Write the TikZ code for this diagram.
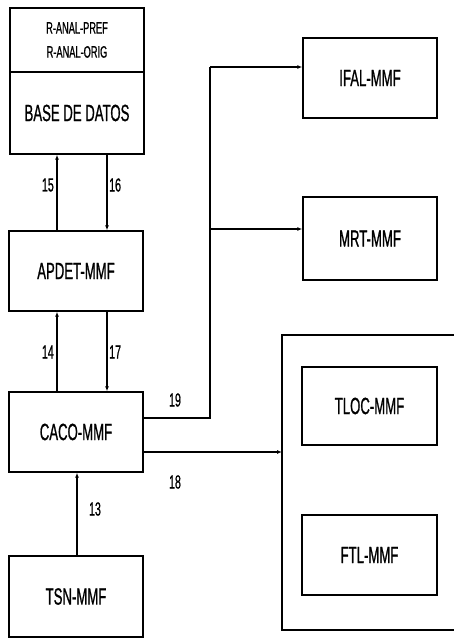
\documentclass[tikz,border=0pt]{standalone}
\usepackage{fontspec}
\setmainfont{Liberation Sans}[FakeStretch=0.56, FakeBold=0.8]
\usepackage{tikz}
\usetikzlibrary{arrows.meta}
\tikzset{
  modbox/.style={draw, line width=1.4pt, minimum width=134pt, minimum height=80pt, inner sep=0pt, align=center, font=\fontsize{23.5}{24}\selectfont},
  conn/.style={line width=1.1pt},
  arrow/.style={conn, -{Latex[length=5pt,width=4pt]}},
  num/.style={font=\fontsize{19}{20}\selectfont, inner sep=1pt}
}

\begin{document}
\begin{tikzpicture}[x=1pt, y=-1pt]
  \useasboundingbox (0,0) rectangle (454,638);

  \node[modbox, minimum height=64pt, font=\fontsize{16.5}{24}\selectfont] (pref) at (77,40) {R-ANAL-PREF\\R-ANAL-ORIG};
  \node[modbox, minimum height=82pt] (base) at (77,113) {BASE DE DATOS};
  \node[modbox] (apdet) at (76,271) {APDET-MMF};
  \node[modbox] (caco) at (76,432) {CACO-MMF};
  \node[modbox, minimum height=81pt] (tsn) at (76,596.5) {TSN-MMF};

  \node[modbox] (ifal) at (370,78) {IFAL-MMF};
  \node[modbox, minimum height=83pt] (mrt) at (370,238.5) {MRT-MMF};
  \node[modbox, minimum height=78pt, minimum width=135pt] (tloc) at (369.5,406) {TLOC-MMF};
  \node[modbox, minimum width=135pt] (ftl) at (369.5,555) {FTL-MMF};
  \draw[line width=1.4pt] (456,335) -- (282,335) -- (282,630) -- (456,630);
  \coordinate (grpin) at (282,452);

  \draw[arrow] ([xshift=-19pt]apdet.north) -- ([xshift=-20pt]base.south);
  \draw[arrow] ([xshift=30pt]base.south) -- ([xshift=31pt]apdet.north);
  \draw[arrow] ([xshift=-19pt]caco.north) -- ([xshift=-19pt]apdet.south);
  \draw[arrow] ([xshift=31pt]apdet.south) -- ([xshift=31pt]caco.north);
  \draw[arrow] ([xshift=1pt]tsn.north) -- ([xshift=1pt]caco.south);

  \coordinate (bustop) at (210,67);
  \coordinate (busmid) at (210,229);
  \draw[conn] ([yshift=14pt]caco.east) -| (bustop);
  \draw[arrow] (bustop) -- (ifal.west |- bustop);
  \draw[arrow] (busmid) -- (mrt.west |- busmid);
  \draw[arrow] ([yshift=-20pt]caco.east) -- (grpin);

  \node[num, anchor=east] (n15) at (55,185) {15};
  \node[num, anchor=west] (n16) at (108,185) {16};
  \node[num, anchor=east] (n14) at (55,352) {14};
  \node[num, anchor=west] (n17) at (108,352) {17};
  \node[num] (n19) at (175,400) {19};
  \node[num] (n18) at (175,482) {18};
  \node[num] (n13) at (95,509) {13};
\end{tikzpicture}
\end{document}
